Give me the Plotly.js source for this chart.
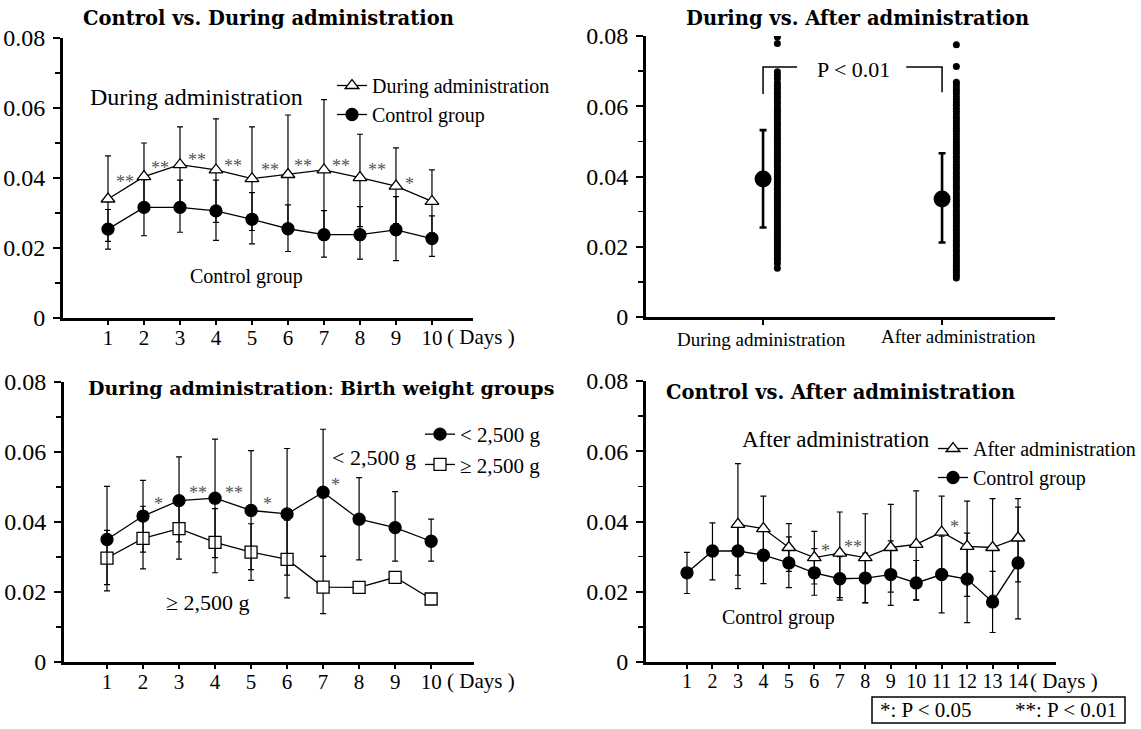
<!DOCTYPE html>
<html><head><meta charset="utf-8">
<script src="https://cdn.plot.ly/plotly-3.0.1.min.js"></script>
<style>html,body{margin:0;padding:0;background:#fff}#c{width:1141px;height:729px}</style>
</head><body><div id="c"></div>
<script>
// ---------- data ----------
const days10 = [1,2,3,4,5,6,7,8,9,10];
const days14 = [1,2,3,4,5,6,7,8,9,10,11,12,13,14];
const days3to14 = [3,4,5,6,7,8,9,10,11,12,13,14];
const dayTickText10 = ["1","2","3","4","5","6","7","8","9","10"];
const dayTickText14 = ["1","2","3","4","5","6","7","8","9","10","11","12","13","14"];
const yTickVals = [0,0.02,0.04,0.06,0.08];
const yTickText = ["0","0.02","0.04","0.06","0.08"];

// Panel 1: Control vs. During administration
const p1During      = [0.0340,0.0404,0.0438,0.0423,0.0398,0.0410,0.0423,0.0401,0.0377,0.0333];
const p1DuringUp    = [0.0463,0.0500,0.0546,0.0569,0.0546,0.0580,0.0624,0.0525,0.0486,0.0423];
const p1DuringLo    = [0.0219,0.0310,0.0330,0.0273,0.0250,0.0240,0.0222,0.0261,0.0270,0.0243];
const p1Control     = [0.0254,0.0316,0.0316,0.0306,0.0282,0.0255,0.0238,0.0238,0.0252,0.0227];
const p1ControlUp   = [0.0310,0.0395,0.0394,0.0394,0.0358,0.0323,0.0307,0.0318,0.0347,0.0292];
const p1ControlLo   = [0.0197,0.0235,0.0245,0.0222,0.0212,0.0190,0.0174,0.0168,0.0164,0.0176];
const p1StarX = [1.48,2.44,3.47,4.46,5.49,6.43,7.47,8.46,9.37];
const p1StarY = [0.0399,0.0439,0.0463,0.0445,0.0435,0.0445,0.0445,0.0435,0.0394];
const p1StarT = ["**","**","**","**","**","**","**","**","*"];

// Panel 2: During vs. After administration
const p2Cats  = ["During administration","After administration"];
const p2Mean  = [0.0393,0.0336];
const p2Up    = [0.0532,0.0466];
const p2Lo    = [0.0255,0.0212];
const p2DuringPoints = [0.0797,0.0779,0.0698,0.0689,0.0679,0.0667,0.0659,0.0651,0.0642,0.0636,0.0628,0.0621,0.0613,0.0607,0.0598,0.0591,0.0584,0.0577,0.0569,0.0562,0.0554,0.0548,0.0541,0.0533,0.0526,0.0519,0.0512,0.0505,0.0497,0.0491,0.0483,0.0476,0.0469,0.0462,0.0455,0.0447,0.0441,0.0433,0.0426,0.0419,0.0412,0.0405,0.0398,0.0391,0.0383,0.0377,0.0369,0.0362,0.0355,0.0348,0.0341,0.0334,0.0327,0.0319,0.0313,0.0305,0.0298,0.0291,0.0284,0.0277,0.0269,0.0262,0.0255,0.0248,0.0241,0.0234,0.0227,0.0219,0.0212,0.0205,0.0198,0.0191,0.0184,0.0176,0.0169,0.0162,0.0152,0.0139];
const p2AfterPoints = [0.0775,0.0713,0.0668,0.0661,0.0653,0.0645,0.0637,0.0628,0.0619,0.0611,0.0603,0.0594,0.0586,0.0578,0.0569,0.0561,0.0553,0.0545,0.0537,0.0529,0.0521,0.0513,0.0505,0.0497,0.0489,0.0481,0.0474,0.0466,0.0458,0.0451,0.0443,0.0435,0.0428,0.0421,0.0413,0.0406,0.0398,0.0391,0.0384,0.0376,0.0369,0.0362,0.0354,0.0347,0.0339,0.0332,0.0325,0.0318,0.0311,0.0303,0.0296,0.0289,0.0282,0.0275,0.0268,0.0261,0.0254,0.0247,0.0239,0.0232,0.0225,0.0218,0.0211,0.0204,0.0197,0.0189,0.0182,0.0175,0.0168,0.0161,0.0154,0.0147,0.0140,0.0133,0.0126,0.0119,0.0111];

// Panel 3: During administration, birth weight groups
const p3Low     = [0.0350,0.0417,0.0461,0.0468,0.0433,0.0423,0.0485,0.0408,0.0384,0.0345];
const p3LowUp   = [0.0502,0.0519,0.0586,0.0637,0.0604,0.0610,0.0665,0.0527,0.0487,0.0408];
const p3LowLo   = [0.0203,0.0314,0.0343,0.0298,0.0264,0.0248,0.0302,0.0292,0.0288,0.0288];
const p3High    = [0.0297,0.0353,0.0381,0.0342,0.0314,0.0293,0.0214,0.0213,0.0242,0.0180];
const p3HighUp  = [0.0376,0.0445,0.0468,0.0438,0.0395,0.0405,0.0302,0.0213,0.0242,0.0180];
const p3HighLo  = [0.0221,0.0266,0.0294,0.0255,0.0233,0.0183,0.0138,0.0213,0.0242,0.0180];
const p3StarX = [2.42,3.53,4.52,5.46,7.34];
const p3StarY = [0.0464,0.0495,0.0495,0.0464,0.0517];
const p3StarT = ["*","**","**","*","*"];

// Panel 4: Control vs. After administration
const p4After     = [0.0392,0.0380,0.0326,0.0297,0.0310,0.0297,0.0326,0.0335,0.0370,0.0329,0.0326,0.0353];
const p4AfterUp   = [0.0565,0.0472,0.0394,0.0372,0.0427,0.0422,0.0449,0.0487,0.0472,0.0458,0.0465,0.0465];
const p4AfterLo   = [0.0209,0.0288,0.0258,0.0222,0.0183,0.0169,0.0199,0.0177,0.0265,0.0187,0.0190,0.0228];
const p4Control   = [0.0254,0.0316,0.0316,0.0304,0.0282,0.0254,0.0237,0.0239,0.0249,0.0225,0.0249,0.0236,0.0171,0.0282];
const p4ControlUp = [0.0312,0.0396,0.0385,0.0385,0.0356,0.0323,0.0300,0.0310,0.0345,0.0289,0.0358,0.0367,0.0258,0.0441];
const p4ControlLo = [0.0195,0.0234,0.0247,0.0223,0.0212,0.0190,0.0176,0.0168,0.0161,0.0176,0.0140,0.0112,0.0084,0.0123];
const p4StarX = [6.45,7.50,11.50];
const p4StarY = [0.0327,0.0339,0.0396];
const p4StarT = ["*","**","*"];

// ---------- helpers ----------
const W = 1141, H = 729;
const px = v => v / W;
const py = v => 1 - v / H;
const SERIF = "Liberation Serif, Times New Roman, serif";
const TITLE = "DejaVu Serif, serif";
const diff = (a, b) => a.map((v, i) => v - b[i]);

function errs(mean, up, lo, thick, w) {
  return {type: "data", symmetric: false, array: diff(up, mean), arrayminus: diff(mean, lo),
          color: "#000", thickness: thick || 1.2, width: w || 3};
}
function series(x, y, up, lo, symbol, fill, xa, ya) {
  return {x: x, y: y, xaxis: xa, yaxis: ya, type: "scatter", mode: "lines+markers", showlegend: false,
          line: {color: "#000", width: 1.3},
          marker: {symbol: symbol, size: 12, color: fill, line: {color: "#000", width: 1.3}},
          error_y: errs(y, up, lo), hoverinfo: "skip", cliponaxis: false};
}
function legendItem(name, symbol, fill, xa, ya, leg) {
  return {x: [null], y: [null], xaxis: xa, yaxis: ya, type: "scatter", mode: "lines+markers", name: name,
          legend: leg, showlegend: true, line: {color: "#000", width: 1.3},
          marker: {symbol: symbol, size: 12, color: fill, line: {color: "#000", width: 1.3}}};
}

const traces = [
  // panel 1
  series(days10, p1Control, p1ControlUp, p1ControlLo, "circle", "#000", "x", "y"),
  series(days10, p1During, p1DuringUp, p1DuringLo, "triangle-up", "#fff", "x", "y"),
  legendItem("During administration", "triangle-up", "#fff", "x", "y", "legend"),
  legendItem("Control group", "circle", "#000", "x", "y", "legend"),
  // panel 2
  {x: p2Cats, y: p2Mean, xaxis: "x2", yaxis: "y2", type: "scatter", mode: "markers", showlegend: false,
   marker: {symbol: "circle", size: 17, color: "#000"}, error_y: errs(p2Mean, p2Up, p2Lo, 2.6, 3.5), hoverinfo: "skip"},
  {x: p2DuringPoints.map(() => p2Cats[0]), y: p2DuringPoints, xaxis: "x5", yaxis: "y2", type: "scatter", mode: "markers",
   showlegend: false, marker: {size: 7, color: "#000"}, hoverinfo: "skip"},
  {x: p2AfterPoints.map(() => p2Cats[1]), y: p2AfterPoints, xaxis: "x5", yaxis: "y2", type: "scatter", mode: "markers",
   showlegend: false, marker: {size: 7, color: "#000"}, hoverinfo: "skip"},
  // panel 3
  series(days10, p3High, p3HighUp, p3HighLo, "square", "#fff", "x3", "y3"),
  series(days10, p3Low, p3LowUp, p3LowLo, "circle", "#000", "x3", "y3"),
  legendItem("< 2,500 g", "circle", "#000", "x3", "y3", "legend2"),
  legendItem("≥ 2,500 g", "square", "#fff", "x3", "y3", "legend2"),
  // panel 4
  series(days14, p4Control, p4ControlUp, p4ControlLo, "circle", "#000", "x4", "y4"),
  series(days3to14, p4After, p4AfterUp, p4AfterLo, "triangle-up", "#fff", "x4", "y4"),
  legendItem("After administration", "triangle-up", "#fff", "x4", "y4", "legend3"),
  legendItem("Control group", "circle", "#000", "x4", "y4", "legend3")
];

function yAxis(domTop, domBot, anchor) {
  return {domain: [py(domBot), py(domTop)], range: [0, 0.08], anchor: anchor, tickvals: yTickVals, ticktext: yTickText,
          showline: true, linewidth: 3, linecolor: "#000", ticks: "outside", ticklen: 7, tickwidth: 2, tickcolor: "#000",
          minor: {tickvals: [0.01,0.03,0.05,0.07], ticks: "outside", ticklen: 5, tickwidth: 1.5, tickcolor: "#000", showgrid: false},
          showgrid: false, zeroline: false, ticklabelstandoff: 3,
          tickfont: {family: SERIF, size: 24, color: "#000"}, fixedrange: true};
}
function xAxis(left, right, range, vals, text, anchor, size) {
  return {domain: [px(left), px(right)], range: range, anchor: anchor, tickvals: vals, ticktext: text,
          showline: true, linewidth: 3, linecolor: "#000", ticks: "outside", ticklen: 4, tickwidth: 2, tickcolor: "#000",
          showgrid: false, zeroline: false, ticklabelstandoff: -5,
          tickfont: {family: SERIF, size: size || 21, color: "#000"}, fixedrange: true};
}

function ann(text, x, y, size, o) {
  o = o || {};
  return Object.assign({text: text, x: px(x), y: py(y), xref: "paper", yref: "paper", showarrow: false,
          xanchor: "center", yanchor: "middle", font: {family: SERIF, size: size, color: "#000"}}, o);
}
function stars(xs, ys, ts, xa, ya) {
  return xs.map((x, i) => ({text: ts[i], x: x, y: ys[i], xref: xa, yref: ya, showarrow: false,
          xanchor: "center", yanchor: "middle", yshift: -4, font: {family: SERIF, size: 18, color: "#555"}}));
}
const titleFont = {family: TITLE, size: 19.5, color: "#000"};

const annotations = [
  ann("<b>Control vs. During administration</b>", 268, 18, 19, {font: titleFont}),
  ann("<b>During vs. After administration</b>", 857, 18, 19, {font: titleFont}),
  ann("<b>During administration</b>: <b>Birth weight groups</b>", 86, 388, 19, {xanchor: "left", font: {family: TITLE, size: 19, color: "#000"}}),
  ann("<b>Control vs. After administration</b>", 664, 392, 19, {xanchor: "left", font: titleFont}),
  ann("During administration", 196, 97, 24),
  ann("Control group", 246, 276, 20),
  ann("P < 0.01", 853, 70, 22),
  ann("During administration", 761, 340, 19),
  ann("After administration", 958, 336, 19),
  ann("< 2,500 g", 418, 458, 22, {xanchor: "right"}),
  ann("≥ 2,500 g", 208, 602, 22),
  ann("After administration", 932, 440, 23, {xanchor: "right"}),
  ann("Control group", 778, 617, 20),
  ann("( Days )", 445, 337, 21, {xanchor: "left"}),
  ann("( Days )", 445, 681, 21, {xanchor: "left"}),
  ann("( Days )", 1028, 681, 21, {xanchor: "left"}),
  ann("*: P < 0.05", 878, 710, 21, {xanchor: "left"}),
  ann("**: P < 0.01", 1119, 710, 21, {xanchor: "right"})
].concat(stars(p1StarX, p1StarY, p1StarT, "x", "y"))
 .concat(stars(p3StarX, p3StarY, p3StarT, "x3", "y3"))
 .concat(stars(p4StarX, p4StarY, p4StarT, "x4", "y4"));

const shapes = [
  // significance bracket (panel 2)
  {type: "path", xref: "x2", yref: "y2", path: "M 0,0.0635 L 0,0.0712 L 0.19,0.0712", line: {color: "#000", width: 1.5}},
  {type: "path", xref: "x2", yref: "y2", path: "M 0.8,0.0712 L 1,0.0712 L 1,0.0640", line: {color: "#000", width: 1.5}},
  // p-value key box
  {type: "rect", xref: "paper", yref: "paper", x0: px(872), x1: px(1125), y0: py(723), y1: py(697), line: {color: "#000", width: 1.5}}
];

const legendBase = {bgcolor: "rgba(0,0,0,0)", borderwidth: 0, xanchor: "left", yanchor: "top",
                    font: {family: SERIF, size: 20, color: "#000"}, itemclick: false, itemdoubleclick: false, tracegroupgap: 0};

const layout = {
  width: W, height: H, margin: {l: 0, r: 0, t: 0, b: 0}, paper_bgcolor: "#fff", plot_bgcolor: "rgba(0,0,0,0)",
  showlegend: true,
  xaxis: xAxis(63, 473, [-0.25, 11.14], days10, dayTickText10, "y"),
  yaxis: yAxis(38, 318, "x"),
  xaxis2: {domain: [px(646), px(1055)], type: "category", categoryarray: p2Cats, range: [-0.654, 1.631], anchor: "y2",
           showticklabels: false, showline: true, linewidth: 3, linecolor: "#000", ticks: "outside", ticklen: 5, tickwidth: 2,
           tickcolor: "#000", showgrid: false, zeroline: false, fixedrange: true},
  yaxis2: yAxis(36, 317, "x2"),
  xaxis5: {type: "category", categoryarray: p2Cats, range: [-0.734, 1.551], overlaying: "x2", anchor: "y2", visible: false, fixedrange: true},
  xaxis3: xAxis(64, 474, [-0.194, 11.19], days10, dayTickText10, "y3"),
  yaxis3: yAxis(382, 662, "x3"),
  xaxis4: xAxis(646, 1056, [-0.61, 15.49], days14, dayTickText14, "y4", 20),
  yaxis4: yAxis(381, 662, "x4"),
  legend:  Object.assign({}, legendBase, {x: px(332), y: py(66)}),
  legend2: Object.assign({}, legendBase, {x: px(420), y: py(414), font: {family: SERIF, size: 21, color: "#000"}}),
  legend3: Object.assign({}, legendBase, {x: px(933), y: py(429)}),
  annotations: annotations,
  shapes: shapes
};

Plotly.newPlot("c", traces, layout, {staticPlot: true, displayModeBar: false});
</script>
</body></html>
